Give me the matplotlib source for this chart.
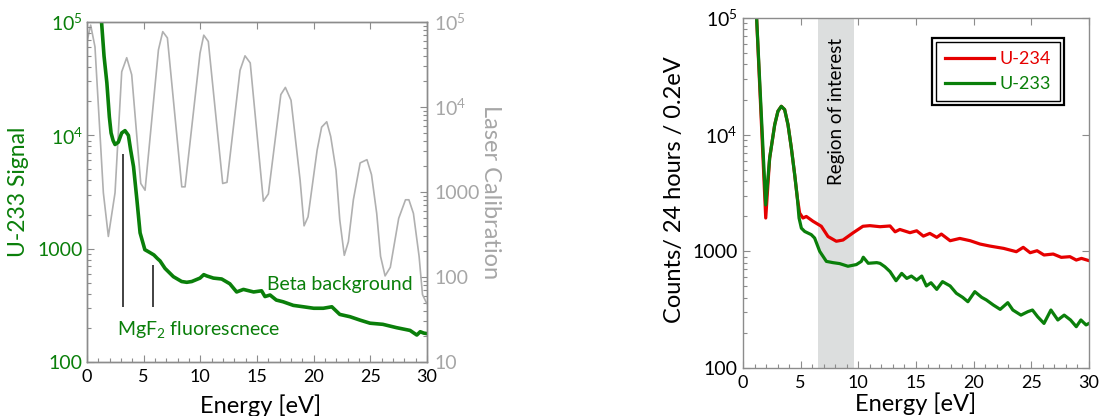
import matplotlib
matplotlib.use("Agg")
import matplotlib.pyplot as plt
from matplotlib.patches import Rectangle
from matplotlib.ticker import MultipleLocator, LogLocator, NullFormatter

plt.rcParams['font.family'] = ['Lato', 'DejaVu Sans']
plt.rcParams['mathtext.fontset'] = 'custom'
plt.rcParams['mathtext.rm'] = 'Lato'
plt.rcParams['mathtext.it'] = 'Lato:italic'
plt.rcParams['mathtext.bf'] = 'Lato:bold'

GREEN = '#0a7f0a'
RED = '#e60000'
GRAY = '#b0b0b0'
TXTGRAY = '#a6a6a6'
AXGRAY = '#8c8c8c'

# --- left panel: U-233 signal
sig_E = [1.25, 1.5, 1.75, 1.97, 2.12, 2.3, 2.47, 2.76, 3.06, 3.35, 3.65, 3.85, 4.1,
         4.4, 4.68, 5.1, 5.5, 5.9, 6.2, 6.44, 6.88, 7.62, 8.35, 8.8, 9.24, 9.97,
         10.3, 10.56, 11.15, 11.88, 12.6, 13.2, 13.8, 14.7, 15.4, 15.7, 16.15,
         16.7, 17.3, 18.2, 19.1, 20.0, 20.85, 21.6, 22.3, 23.2, 24.1, 24.97,
         26.1, 27.3, 28.5, 29.1, 29.4, 29.7, 30.0]
sig_val = [110000, 50000, 29000, 14500, 10500, 9000, 8300, 8700, 10500, 11000, 10000,
           7400, 5300, 2700, 1380, 980, 930, 880, 820, 780, 670, 566, 513, 505, 513,
           550, 590, 575, 550, 540, 490, 415, 437, 415, 425, 378, 390, 352, 340,
           316, 307, 298, 298, 307, 263, 251, 234, 220, 215, 201, 190, 173, 185,
           180, 178]

# laser calibration (right axis of left panel)
laser_E = [0.0, 0.32, 0.7, 1.44, 1.88, 2.47, 3.06, 3.5, 3.94, 4.74, 5.12, 6.3, 6.68,
           7.09, 8.36, 8.65, 9.97, 10.3, 10.7, 11.97, 12.35, 13.5, 13.94, 14.4,
           15.56, 16.0, 17.1, 17.5, 18.0, 18.8, 19.15, 19.5, 20.3, 20.7, 21.15,
           21.5, 21.97, 22.3, 22.7, 23.06, 23.5, 24.1, 24.7, 25.1, 25.56, 25.9,
           26.3, 26.76, 27.5, 28.1, 28.4, 28.8, 29.3, 29.6, 29.97]
laser_val = [59000, 92000, 51000, 980, 300, 980, 26000, 38000, 24000, 1260, 1050,
             47000, 77000, 65000, 1150, 1150, 43000, 70000, 59000, 1260, 1300, 27000,
             40000, 33000, 780, 950, 14000, 17000, 12000, 1380, 400, 510, 3100, 5800,
             6700, 4500, 1800, 470, 180, 260, 810, 2200, 2400, 1600, 560, 175, 103,
             130, 490, 810, 810, 560, 175, 62, 49]

# marker lines for MgF2 fluorescence
mark_E = [3.15, 5.85]
mark_top = [6900, 718]
mark_bottom = 304

# --- right panel: counts / 24 h / 0.2 eV
u234_E = [1.16, 1.97, 2.31, 2.75, 3.03, 3.32, 3.61, 3.9, 4.19, 4.48, 4.71, 4.91,
          5.2, 5.49, 6.07, 6.79, 7.37, 8.09, 8.67, 9.54, 10.4, 11.0, 11.88, 12.75,
          13.19, 13.6, 14.48, 15.06, 15.64, 16.2, 16.8, 17.2, 17.96, 18.8, 19.7,
          20.55, 21.4, 22.6, 23.7, 24.3, 24.9, 25.5, 26.1, 26.9, 27.6, 28.35,
          28.9, 29.35, 30.0]
u234_val = [110000, 1930, 6300, 12200, 15900, 17500, 16400, 12200, 7700, 4550, 2870,
            2130, 1930, 1990, 1810, 1640, 1340, 1220, 1250, 1440, 1640, 1660, 1626,
            1650, 1470, 1540, 1445, 1500, 1350, 1425, 1318, 1406, 1233, 1290, 1233,
            1155, 1110, 1060, 993, 1082, 973, 1012, 930, 948, 888, 900, 842, 870, 832]

u233_E = [1.16, 1.97, 2.31, 2.75, 3.03, 3.32, 3.61, 3.9, 4.19, 4.48, 4.71, 4.86,
          5.06, 5.35, 5.92, 6.21, 6.65, 7.23, 7.8, 8.38, 9.1, 9.83, 10.26, 10.43,
          10.86, 11.6, 11.88, 12.3, 12.75, 13.27, 13.76, 14.2, 14.6, 15.06, 15.5,
          15.9, 16.3, 16.8, 17.3, 17.96, 18.5, 19.05, 19.5, 20.1, 20.7, 21.1, 21.7,
          22.3, 22.96, 23.4, 24.1, 24.7, 25.1, 25.55, 26.1, 26.7, 27.3, 27.85,
          28.4, 28.9, 29.3, 29.75, 30.0]
u233_val = [110000, 2500, 6300, 12200, 15900, 17500, 16400, 12200, 7700, 4550, 2870,
            1930, 1580, 1480, 1390, 1300, 1000, 820, 800, 785, 745, 770, 820, 890,
            790, 800, 789, 738, 670, 560, 647, 586, 614, 567, 614, 505, 538, 472,
            550, 505, 437, 403, 370, 451, 403, 383, 347, 318, 363, 314, 284, 304,
            314, 275, 241, 314, 258, 284, 258, 226, 258, 234, 241]

roi = (6.5, 9.6)

left_ticks = [100, 1000, 1e4, 1e5]
left_labels = ['100', '1000', r'$\mathregular{10^4}$', r'$\mathregular{10^5}$']
laser_ticks = [10, 100, 1000, 1e4, 1e5]
laser_labels = ['10', '100', '1000', r'$\mathregular{10^4}$', r'$\mathregular{10^5}$']


def style_axis(ax):
    ax.set_xlim(0, 30)
    ax.xaxis.set_major_locator(MultipleLocator(5))
    ax.xaxis.set_minor_locator(MultipleLocator(1))
    ax.yaxis.set_minor_locator(LogLocator(base=10, subs=range(2, 10)))
    ax.yaxis.set_minor_formatter(NullFormatter())
    for s in ax.spines.values():
        s.set_color(AXGRAY)
        s.set_linewidth(1.0)
    ax.tick_params(which='both', direction='in', color=AXGRAY)
    ax.tick_params(which='major', length=5, width=0.8)
    ax.tick_params(which='minor', length=3, width=0.8)
    ax.tick_params(axis='x', labelsize=13, pad=5, labelcolor='black')


fig = plt.figure(figsize=(11.06, 4.16), dpi=100)

# ---------------- left panel
ax1 = fig.add_axes([0.0787, 0.1298, 0.3074, 0.8173])
ax2 = ax1.twinx()
ax1.set_zorder(ax2.get_zorder() + 1)
ax1.patch.set_visible(False)

ax2.plot(laser_E, laser_val, color=GRAY, lw=1.2)
ax2.set_yscale('log')
ax2.set_ylim(10, 1e5)

ax1.plot(sig_E, sig_val, color=GREEN, lw=2.6)
ax1.vlines(mark_E, mark_bottom, mark_top, color='#333333', lw=1.3)
ax1.set_yscale('log')
ax1.set_ylim(100, 1e5)

style_axis(ax1)
style_axis(ax2)
ax1.tick_params(top=True, right=False)
ax2.tick_params(left=False, top=False, bottom=False, right=True)
ax1.set_yticks(left_ticks, labels=left_labels)
ax2.set_yticks(laser_ticks, labels=laser_labels)
ax1.tick_params(axis='y', labelsize=14, labelcolor=GREEN, pad=3)
ax2.tick_params(axis='y', labelsize=14, labelcolor=TXTGRAY, pad=5)

ax1.set_xlabel('Energy [eV]', fontsize=17, va='top')
ax1.xaxis.set_label_coords(0.51, -0.095)
ax1.set_ylabel('U-233 Signal', fontsize=16.5, color=GREEN)
ax1.yaxis.set_label_coords(-0.17, 0.5)
ax2.set_ylabel('Laser Calibration', fontsize=17, color=TXTGRAY, rotation=270, va='bottom')
ax2.yaxis.set_label_coords(1.155, 0.5)

ax1.text(0.088, 0.079, r'MgF$_{\mathregular{2}}$ fluorescnece', transform=ax1.transAxes,
         fontsize=14, color=GREEN, ha='left', va='baseline')
ax1.text(0.53, 0.212, 'Beta background', transform=ax1.transAxes,
         fontsize=14, color=GREEN, ha='left', va='baseline')

# ---------------- right panel
ax3 = fig.add_axes([0.6718, 0.1154, 0.3128, 0.8413])
ax3.axvspan(roi[0], roi[1], color='#dcdede', lw=0, zorder=0)
ax3.plot(u234_E, u234_val, color=RED, lw=2.3, label='U-234')
ax3.plot(u233_E, u233_val, color=GREEN, lw=2.3, label='U-233')
ax3.set_yscale('log')
ax3.set_ylim(100, 1e5)
style_axis(ax3)
ax3.tick_params(top=True, right=True)
ax3.set_yticks(left_ticks, labels=left_labels)
ax3.tick_params(axis='y', labelsize=14, labelcolor='black', pad=4)
ax3.set_xlabel('Energy [eV]', fontsize=17, va='top')
ax3.xaxis.set_label_coords(0.5, -0.07)
ax3.set_ylabel('Counts/ 24 hours / 0.2eV', fontsize=17)
ax3.yaxis.set_label_coords(-0.168, 0.509)
ax3.text(0.271, 0.733, 'Region of interest', transform=ax3.transAxes, rotation=90,
         fontsize=13.5, ha='center', va='center')

leg = ax3.legend(loc='upper right', bbox_to_anchor=(0.916, 0.931), borderaxespad=0,
                 frameon=True, fancybox=False, edgecolor='black', framealpha=1,
                 handlelength=2.7, handletextpad=0.3, borderpad=0.5,
                 labelcolor='linecolor', fontsize=13)
leg.get_frame().set_linewidth(1.0)

# double frame round the legend
fig.canvas.draw()
bb = leg.get_frame().get_window_extent()
inv = fig.transFigure.inverted()
(x0, y0), (x1, y1) = inv.transform([[bb.x0 - 4, bb.y0 - 4], [bb.x1 + 4, bb.y1 + 4]])
fig.add_artist(Rectangle((x0, y0), x1 - x0, y1 - y0, transform=fig.transFigure,
                         fill=False, ec='black', lw=1.6))

fig.savefig('out.png', dpi=100)
